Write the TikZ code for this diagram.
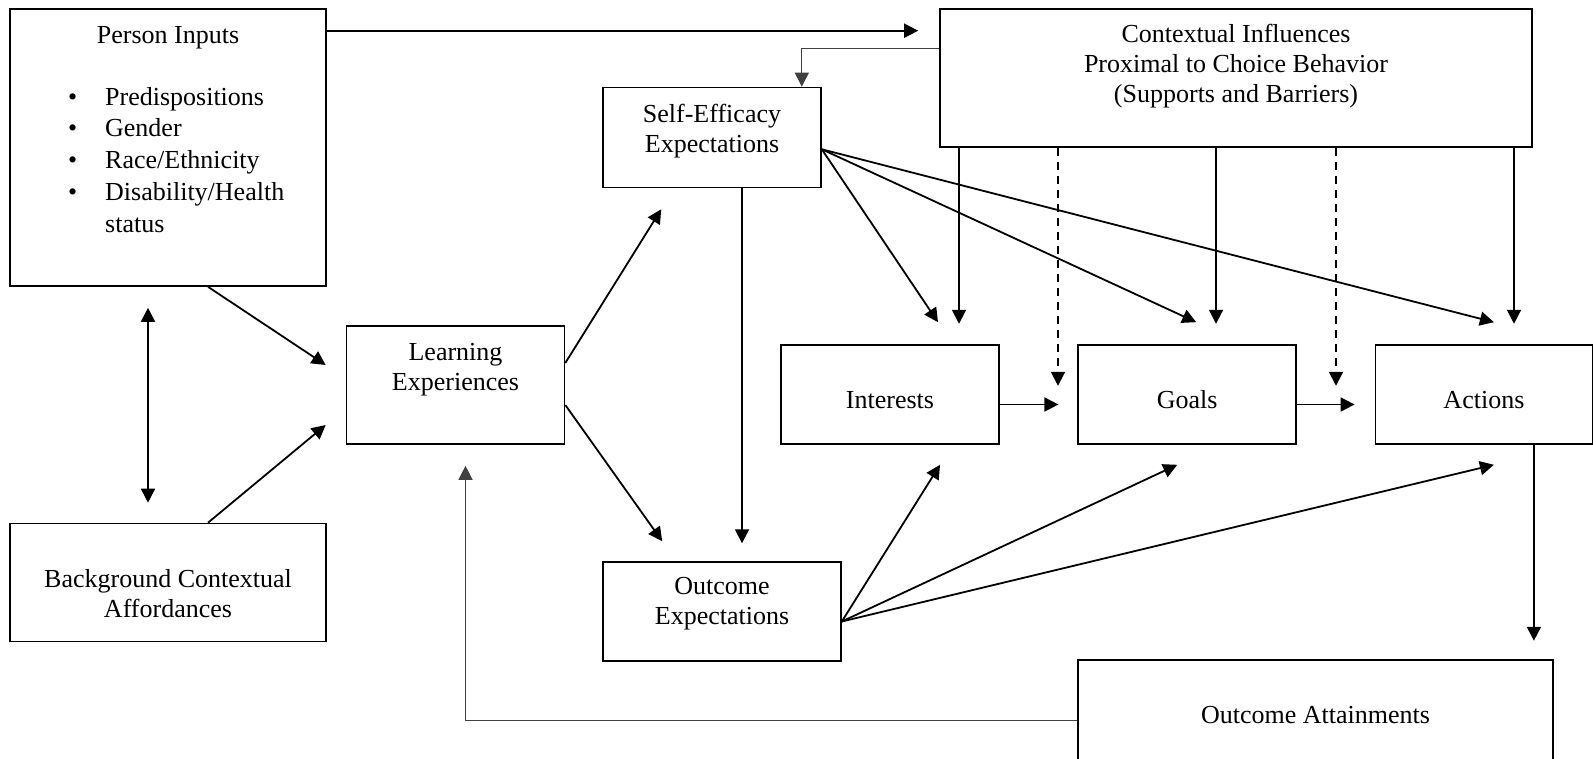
\documentclass[tikz,border=0pt]{standalone}
\usepackage{fontspec}
\setmainfont{Liberation Serif}
\usepackage{tikz}
\usetikzlibrary{positioning}
\usetikzlibrary{calc}
\usetikzlibrary{arrows.meta}

\newcommand{\liftby}[1]{\rule[-#1]{0pt}{#1}}% deeper last line, text goes up
\newcommand{\dropby}[1]{\rule{0pt}{#1}}%      taller first line, text goes down

\begin{document}
\begin{tikzpicture}[
    x=0.5pt, y=-0.5pt,      % one unit is one pixel of the sketch, y going down
    node distance=38.8pt,   % gap in the row Interests - Goals - Actions
    ]
% -------------------------------------------------
\tikzset{
  base/.style={draw, line width=0.8pt, align=center, inner sep=2pt,
    font=\fontsize{13pt}{15pt}\selectfont},
  proc/.style={base, rectangle, minimum width=109pt, minimum height=49.5pt},
  oneline/.style={text height=13.5pt, text depth=0pt},
  big/.style={base, rectangle, minimum width=158pt},
  txt/.style={inner sep=0pt, align=center, font=\fontsize{13pt}{15pt}\selectfont},
  line/.style={draw, line width=0.9pt, -{Triangle[length=7pt,width=7pt]}},
  dbl/.style={line, {Triangle[length=7pt,width=7pt]}-{Triangle[length=7pt,width=7pt]}},
  dline/.style={line, dash pattern=on 4pt off 3pt},
  thinline/.style={line, line width=0.6pt, black!75}
}
\path [use as bounding box, clip] (0,0) rectangle (1593,759);
% -------------------------------------------------
% Placing the nodes

\node [big, minimum height=138.5pt] (pin) at (168,147.5) {};
\node [txt, anchor=base] (pinttl) at ($(pin.north)+(0,35)$) {Person Inputs};
\node [txt, anchor=base west] (pinlst) at ($(pin.north west)+(58.5,97)$)
  {\renewcommand{\arraystretch}{1.06}%
   \begin{tabular}[t]{@{}l@{\hspace{14pt}}l@{}}
   \textbullet & Predispositions\\
   \textbullet & Gender\\
   \textbullet & Race/Ethnicity\\
   \textbullet & Disability/Health\\
               & status
   \end{tabular}};
\node [base, minimum width=296pt, minimum height=69pt] (ctx) at (1236,78) {};
\node [txt, anchor=north] (ctxtxt) at ($(ctx.north)+(0,15.5)$)
  {Contextual Influences\\Proximal to Choice Behavior\\(Supports and Barriers)};

\node [proc, minimum height=50pt] (seff) at (712,137.5)
  {Self-Efficacy\\Expectations\liftby{9.4pt}};
\node [proc, minimum height=59pt] (lrn) at (455.5,385)
  {Learning\\Experiences\liftby{18.5pt}};
\node [proc, oneline] (intr) at (890,394.5) {Interests};
\node [proc, oneline, right=of intr] (goal) {Goals};
\node [proc, oneline, right=of goal, minimum width=108.5pt] (act) {Actions};
\node [proc, minimum width=119pt] (oexp) at (722,611.5)
  {Outcome\\Expectations\liftby{10.3pt}};
\node [big, minimum height=59pt] (bca) at (168,582.5)
  {\dropby{20pt}Background Contextual\\Affordances};
\node [base, minimum width=237.5pt, minimum height=55.5pt] (oatt) at (1315.5,715.5)
  {Outcome Attainments};

% Connectors
\path [line] ($(pin.north east)+(0,22.5)$) -- ($(ctx.north west)+(-21,22.5)$);
\path [thinline] ($(ctx.north west)+(0,40)$) -| ($(seff.north east)+(-20,0)$);
\path [line] ($(pin.south)+(40,0)$) -- ($(lrn.west)+(-20,-20)$);
\path [line] ($(bca.north)+(40,0)$) -- ($(lrn.west)+(-20,40)$);
\path [dbl] ($(pin.south)+(-20,21)$) -- ($(bca.north)+(-20,-20)$);
\path [line] ($(lrn.east)+(0,-22)$) -- ($(seff.south west)+(59,21)$);
\path [line] ($(lrn.east)+(0,20)$) -- ($(oexp.north west)+(60,-20)$);
\path [line] ($(seff.south)+(30,0)$) -- ($(seff.south)+(30,355)$);
\foreach \dst/\dx in {intr/48, goal/9, act/10}
  \path [line] ($(seff.south east)+(0,-39)$) -- ($(\dst.north)+(\dx,-22)$);
\foreach \dx in {-277,-20,278}
  \path [line] ($(ctx.south)+(\dx,0)$) -- ($(ctx.south)+(\dx,176)$);
\foreach \dx in {-178,100}
  \path [dline] ($(ctx.south)+(\dx,0)$) -- ($(ctx.south)+(\dx,238)$);
\path [line] ($(intr.east)+(0,10)$) -- ($(goal.west)+(-19,10)$);
\path [line] ($(goal.east)+(0,10)$) -- ($(act.west)+(-20,10)$);
\foreach \dst/\dx in {intr/50, goal/-10, act/10}
  \path [line] ($(oexp.east)+(0,10)$) -- ($(\dst.south)+(\dx,20)$);
\path [line] ($(act.south)+(50,0)$) -- ($(act.south)+(50,196)$);
\path [thinline] ($(oatt.west)+(0,5)$) -| ($(lrn.south)+(10,21)$);

\end{tikzpicture}
\end{document}
